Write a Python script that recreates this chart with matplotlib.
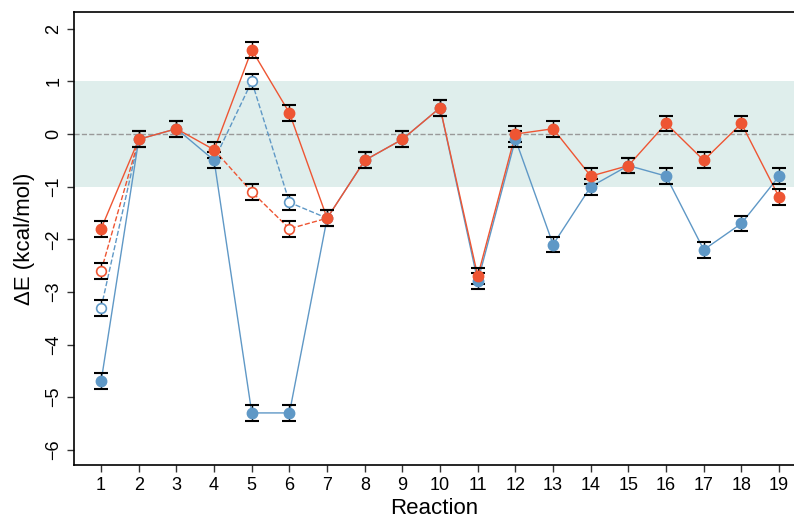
import numpy as np
import matplotlib.pyplot as plt

plt.rcParams['font.family'] = ['Liberation Sans', 'DejaVu Sans']

reactions = np.arange(1, 20)
blue = [-4.7, -0.1, 0.1, -0.5, -5.3, -5.3, -1.6, -0.5, -0.1, 0.5,
        -2.8, -0.1, -2.1, -1.0, -0.6, -0.8, -2.2, -1.7, -0.8]
red = [-1.8, -0.1, 0.1, -0.3, 1.6, 0.4, -1.6, -0.5, -0.1, 0.5,
       -2.7, 0.0, 0.1, -0.8, -0.6, 0.2, -0.5, 0.2, -1.2]
# alternative values (open circles) for some reactions
nan = np.nan
blue_alt = [-3.3, nan, nan, nan, 1.0, -1.3] + [nan] * 13
red_alt = [-2.6, nan, nan, nan, -1.1, -1.8] + [nan] * 13
err = 0.15

c_blue = '#5f98c6'
c_red = '#ee5533'

fig = plt.figure(figsize=(7.94, 5.19), dpi=100)
ax = fig.add_axes([0.0932, 0.104, 0.907, 0.872])

ax.axhspan(-1, 1, color='#dfeeec', lw=0, zorder=0)
ax.axhline(0, color='#999999', ls='--', lw=1, zorder=1)


def dashed_path(main, alt):
    # dashed line through alt values, joined to the neighbouring main values
    main = np.array(main, float)
    alt = np.array(alt, float)
    has = ~np.isnan(alt)
    keep = has.copy()
    keep[1:] |= has[:-1]
    keep[:-1] |= has[1:]
    y = np.where(has, alt, main)
    y[~keep] = nan
    return y


for main, alt, col in [(blue, blue_alt, c_blue), (red, red_alt, c_red)]:
    ax.plot(reactions, dashed_path(main, alt), color=col, ls='--', lw=1, zorder=2)
    ax.plot(reactions, main, color=col, lw=1, zorder=3)
    ax.errorbar(reactions, alt, yerr=err, fmt='none', ecolor='black',
                elinewidth=1, capsize=5, capthick=1.5, zorder=4)
    ax.errorbar(reactions, main, yerr=err, fmt='none', ecolor='black',
                elinewidth=1, capsize=5, capthick=1.5, zorder=4)
    ax.plot(reactions, alt, 'o', ms=7, mfc='white', mec=col, mew=1.2, zorder=5)
    ax.plot(reactions, main, 'o', ms=7.5, color=col, zorder=5)

ax.set_xlim(0.28, 19.4)
ax.set_ylim(-6.29, 2.31)
ax.set_xticks(reactions)
ax.set_yticks(range(-6, 3))
ax.set_yticklabels([str(v).replace('-', '\u2212') for v in range(-6, 3)],
                   rotation=90, va='center')
ax.tick_params(labelsize=13, length=5, width=1, color='#333333')
ax.spines['right'].set_visible(False)
for s in ['left', 'top', 'bottom']:
    ax.spines[s].set_linewidth(1.2)
ax.set_xlabel('Reaction', fontsize=16, labelpad=3)
ax.set_ylabel('\u0394E (kcal/mol)', fontsize=16, labelpad=7)

fig.savefig('out.png', dpi=100)
